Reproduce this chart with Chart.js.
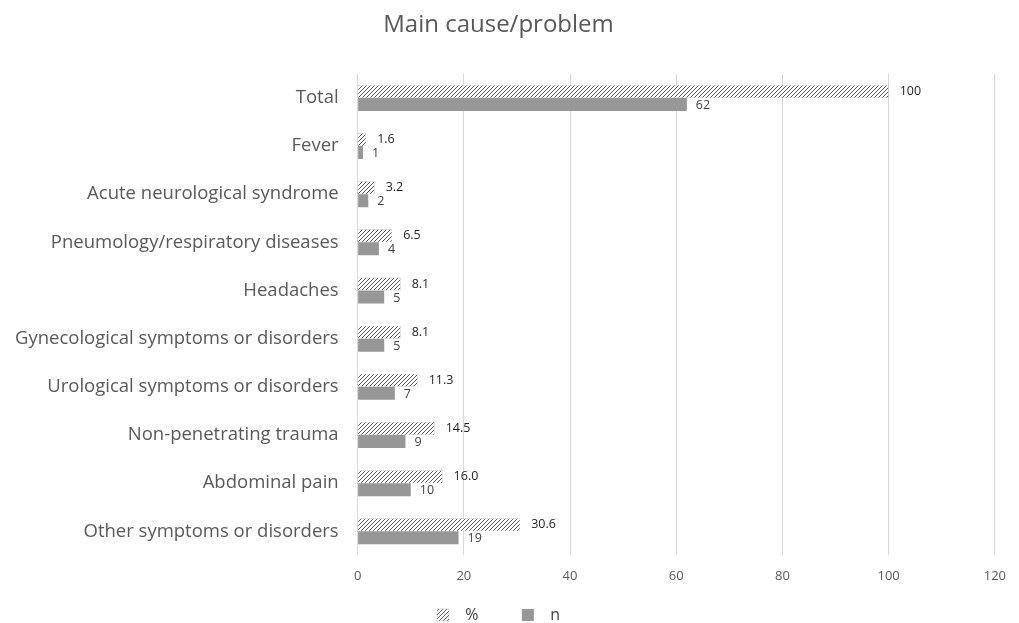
<!DOCTYPE html>
<html>
<head>
<meta charset="utf-8">
<script src="https://cdn.jsdelivr.net/npm/chart.js"></script>
<style>
  body { margin: 0; background: #fff; }
</style>
</head>
<body>
<canvas id="myChart" width="1019" height="623"></canvas>
<script>
const causes = [
  'Total',
  'Fever',
  'Acute neurological syndrome',
  'Pneumology/respiratory diseases',
  'Headaches',
  'Gynecological symptoms or disorders',
  'Urological symptoms or disorders',
  'Non-penetrating trauma',
  'Abdominal pain',
  'Other symptoms or disorders',
];
const pctValues = [100, 1.6, 3.2, 6.5, 8.1, 8.1, 11.3, 14.5, 16.0, 30.6];
const nValues = [62, 1, 2, 4, 5, 5, 7, 9, 10, 19];
const xTicks = [0, 20, 40, 60, 80, 100, 120];

// hatch pattern for the % bars
const mkHatch = () => {
  const s = 4;
  const c = document.createElement('canvas');
  c.width = s;
  c.height = s;
  const g = c.getContext('2d');
  g.fillStyle = '#ffffff';
  g.fillRect(0, 0, s, s);
  g.strokeStyle = '#5a5a5a';
  g.lineWidth = 1;
  g.beginPath();
  g.moveTo(0, s); g.lineTo(s, 0);
  g.moveTo(-1, 1); g.lineTo(1, -1);
  g.moveTo(s - 1, s + 1); g.lineTo(s + 1, s - 1);
  g.stroke();
  return g.createPattern(c, 'repeat');
};
const hatch = mkHatch();

const barLabels = {
  id: 'barLabels',
  afterDatasetsDraw(chart) {
    const {ctx} = chart;
    ctx.save();
    ctx.textBaseline = 'middle';
    ctx.textAlign = 'left';
    ctx.font = '12.5px "Open Sans"';
    chart.data.datasets.forEach((ds, di) => {
      const meta = chart.getDatasetMeta(di);
      meta.data.forEach((bar, i) => {
        const v = ds.data[i];
        if (di === 0) {
          ctx.fillStyle = '#1f1f1f';
          ctx.fillText(v === 100 ? '100' : v.toFixed(1), bar.x + 11, bar.y);
        } else {
          ctx.fillStyle = '#404040';
          ctx.fillText(String(v), bar.x + 9, bar.y + 1);
        }
      });
    });
    ctx.restore();
  },
};

new Chart(document.getElementById('myChart'), {
  type: 'bar',
  data: {
    labels: causes,
    datasets: [
      {
        label: '%',
        data: pctValues,
        backgroundColor: hatch,
        borderColor: '#b0b0b0',
        borderWidth: 0.5,
        categoryPercentage: 0.54,
        barPercentage: 1,
      },
      {
        label: 'n',
        data: nValues,
        backgroundColor: '#979797',
        borderWidth: 0,
        categoryPercentage: 0.54,
        barPercentage: 1,
      },
    ],
  },
  options: {
    indexAxis: 'y',
    responsive: false,
    animation: false,
    layout: {
      padding: {left: -4, right: 18, top: 8, bottom: -10},
    },
    plugins: {
      title: {
        display: true,
        text: 'Main cause/problem',
        color: '#595959',
        font: {family: 'Open Sans', size: 24, weight: 'normal'},
        padding: {top: 3, bottom: 34},
      },
      legend: {
        position: 'bottom',
        labels: {
          color: '#404040',
          font: {family: 'Open Sans', size: 16},
          boxWidth: 12,
          boxHeight: 12,
          padding: 10,
          generateLabels: chart => {
            const items = Chart.defaults.plugins.legend.labels.generateLabels(chart);
            items[0].text = '  %        ';
            items[1].text = '  n';
            return items;
          },
        },
      },
      tooltip: {enabled: false},
    },
    scales: {
      x: {
        min: 0,
        max: 120,
        afterBuildTicks: axis => {
          axis.ticks = xTicks.map(v => ({value: v}));
        },
        grid: {color: '#d9d9d9', drawTicks: false},
        border: {display: false},
        ticks: {
          color: '#595959',
          font: {family: 'Open Sans', size: 13},
          padding: 13,
        },
      },
      y: {
        grid: {display: false, drawTicks: false},
        border: {display: false},
        ticks: {
          color: '#595959',
          font: {family: 'Open Sans', size: 18.5},
          padding: 19,
        },
      },
    },
  },
  plugins: [barLabels],
});
</script>
</body>
</html>
